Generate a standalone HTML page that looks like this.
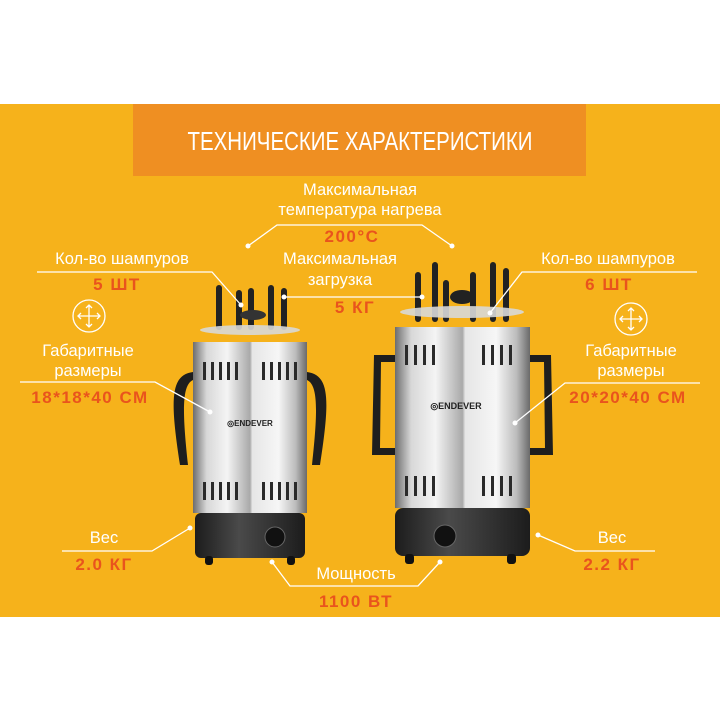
<!DOCTYPE html>
<html><head><meta charset="utf-8"><style>
html,body{margin:0;padding:0;background:#fff;}
svg{display:block}
text{font-family:"Liberation Sans",sans-serif}
.w{fill:#fff;font-size:16.5px;text-anchor:middle}
.o{fill:#e9541d;font-size:17px;font-weight:bold;text-anchor:middle;letter-spacing:1.5px}
.l{stroke:#fff;stroke-width:1.3;fill:none}
</style></head><body>
<svg width="720" height="720" viewBox="0 0 720 720">
<defs>
<linearGradient id="st" x1="0" x2="1">
<stop offset="0" stop-color="#6d6d6d"/><stop offset=".12" stop-color="#d8d8d8"/><stop offset=".3" stop-color="#f4f4f4"/><stop offset=".5" stop-color="#a9a9a9"/><stop offset=".52" stop-color="#e6e6e6"/><stop offset=".75" stop-color="#f6f6f6"/><stop offset=".9" stop-color="#bcbcbc"/><stop offset="1" stop-color="#6a6a6a"/>
</linearGradient>
<linearGradient id="bk" x1="0" x2="1">
<stop offset="0" stop-color="#1c1c1c"/><stop offset=".4" stop-color="#4a4a4a"/><stop offset="1" stop-color="#1c1c1c"/>
</linearGradient>
</defs>
<rect x="0" y="104" width="720" height="513" fill="#f6b21b"/>
<rect x="133" y="104" width="453" height="72" fill="#ef8f22"/>
<text x="360" y="150" fill="#fff" font-size="26" text-anchor="middle" textLength="345" lengthAdjust="spacingAndGlyphs">ТЕХНИЧЕСКИЕ ХАРАКТЕРИСТИКИ</text>

<!-- left appliance -->
<g>
<g fill="#222"><rect x="216" y="285" width="6" height="45" rx="3"/><rect x="236" y="290" width="6" height="40" rx="3"/><rect x="248" y="288" width="6" height="42" rx="3"/><rect x="268" y="285" width="6" height="45" rx="3"/><rect x="281" y="288" width="6" height="42" rx="3"/></g>
<ellipse cx="250" cy="330" rx="50" ry="5" fill="#d8d8d8" opacity=".9"/>
<ellipse cx="253" cy="315" rx="13" ry="5" fill="#333"/>
<path d="M193 372 C170 375 170 400 180 465 L188 465 C182 410 182 385 193 380Z" fill="#1e1e1e"/>
<path d="M307 372 C330 375 330 400 320 465 L312 465 C318 410 318 385 307 380Z" fill="#1e1e1e"/>
<rect x="193" y="342" width="114" height="171" fill="url(#st)"/>
<g fill="#2a2a2a"><rect x="203" y="362" width="3" height="18"/><rect x="211" y="362" width="3" height="18"/><rect x="219" y="362" width="3" height="18"/><rect x="227" y="362" width="3" height="18"/><rect x="235" y="362" width="3" height="18"/><rect x="262" y="362" width="3" height="18"/><rect x="270" y="362" width="3" height="18"/><rect x="278" y="362" width="3" height="18"/><rect x="286" y="362" width="3" height="18"/><rect x="294" y="362" width="3" height="18"/>
<rect x="203" y="482" width="3" height="18"/><rect x="211" y="482" width="3" height="18"/><rect x="219" y="482" width="3" height="18"/><rect x="227" y="482" width="3" height="18"/><rect x="235" y="482" width="3" height="18"/><rect x="262" y="482" width="3" height="18"/><rect x="270" y="482" width="3" height="18"/><rect x="278" y="482" width="3" height="18"/><rect x="286" y="482" width="3" height="18"/><rect x="294" y="482" width="3" height="18"/></g>
<text x="250" y="426" font-size="8" fill="#222" text-anchor="middle" font-weight="bold">◎ENDEVER</text>
<rect x="195" y="513" width="110" height="45" rx="6" fill="url(#bk)"/>
<circle cx="275" cy="537" r="10" fill="#111" stroke="#666"/>
<rect x="205" y="556" width="8" height="9" rx="3" fill="#111"/><rect x="287" y="556" width="8" height="9" rx="3" fill="#111"/>
</g>

<!-- right appliance -->
<g>
<g fill="#222"><rect x="415" y="272" width="6" height="50" rx="3"/><rect x="432" y="262" width="6" height="60" rx="3"/><rect x="470" y="272" width="6" height="50" rx="3"/><rect x="490" y="262" width="6" height="60" rx="3"/><rect x="503" y="268" width="6" height="54" rx="3"/><rect x="443" y="280" width="6" height="42" rx="3"/></g>
<ellipse cx="462" cy="312" rx="62" ry="6" fill="#d8d8d8" opacity=".9"/>
<ellipse cx="462" cy="297" rx="12" ry="7" fill="#222"/>
<path d="M395 355 L374 355 L372 455 L395 455 L395 448 L380 448 L381 362 L395 362Z" fill="#1e1e1e"/>
<path d="M530 355 L551 355 L553 455 L530 455 L530 448 L545 448 L544 362 L530 362Z" fill="#1e1e1e"/>
<rect x="395" y="327" width="135" height="181" fill="url(#st)"/>
<g fill="#2a2a2a"><rect x="405" y="345" width="3" height="20"/><rect x="414" y="345" width="3" height="20"/><rect x="423" y="345" width="3" height="20"/><rect x="432" y="345" width="3" height="20"/><rect x="482" y="345" width="3" height="20"/><rect x="491" y="345" width="3" height="20"/><rect x="500" y="345" width="3" height="20"/><rect x="509" y="345" width="3" height="20"/>
<rect x="405" y="476" width="3" height="20"/><rect x="414" y="476" width="3" height="20"/><rect x="423" y="476" width="3" height="20"/><rect x="432" y="476" width="3" height="20"/><rect x="482" y="476" width="3" height="20"/><rect x="491" y="476" width="3" height="20"/><rect x="500" y="476" width="3" height="20"/><rect x="509" y="476" width="3" height="20"/></g>
<text x="456" y="409" font-size="9" fill="#222" text-anchor="middle" font-weight="bold">◎ENDEVER</text>
<rect x="395" y="508" width="135" height="48" rx="8" fill="url(#bk)"/>
<circle cx="445" cy="536" r="11" fill="#111" stroke="#666"/>
<rect x="405" y="554" width="9" height="10" rx="3" fill="#111"/><rect x="507" y="554" width="9" height="10" rx="3" fill="#111"/>
</g>

<!-- labels -->
<text class="w" x="360" y="195">Максимальная</text>
<text class="w" x="360" y="215">температура нагрева</text>
<polyline class="l" points="248,246 277,225 422,225 452,246"/>
<circle cx="248" cy="246" r="2.5" fill="#fff"/><circle cx="452" cy="246" r="2.5" fill="#fff"/>
<text class="o" x="352" y="242">200°C</text>

<text class="w" x="122" y="264">Кол-во шампуров</text>
<polyline class="l" points="37,272 212,272 241,305"/><circle cx="241" cy="305" r="2.5" fill="#fff"/>
<text class="o" x="117" y="290">5 ШТ</text>

<text class="w" x="340" y="264">Максимальная</text>
<text class="w" x="340" y="285">загрузка</text>
<line class="l" x1="284" y1="297" x2="422" y2="297"/><circle cx="284" cy="297" r="2.5" fill="#fff"/><circle cx="422" cy="297" r="2.5" fill="#fff"/>
<text class="o" x="355" y="313">5 КГ</text>

<text class="w" x="608" y="264">Кол-во шампуров</text>
<polyline class="l" points="697,272 522,272 490,313"/><circle cx="490" cy="313" r="2.5" fill="#fff"/>
<text class="o" x="609" y="290">6 ШТ</text>

<g class="l"><circle cx="89" cy="316" r="16"/><path d="M89 305v22M78 316h22M86 308l3-3 3 3M86 324l3 3 3-3M81 313l-3 3 3 3M97 313l3 3-3 3"/></g>
<g class="l"><circle cx="631" cy="319" r="16"/><path d="M631 308v22M620 319h22M628 311l3-3 3 3M628 327l3 3 3-3M623 316l-3 3 3 3M639 316l3 3-3 3"/></g>

<text class="w" x="88" y="356">Габаритные</text>
<text class="w" x="88" y="376">размеры</text>
<polyline class="l" points="20,382 155,382 210,412"/><circle cx="210" cy="412" r="2.5" fill="#fff"/>
<text class="o" x="90" y="403">18*18*40 СМ</text>

<text class="w" x="631" y="356">Габаритные</text>
<text class="w" x="631" y="376">размеры</text>
<polyline class="l" points="700,383 565,383 515,423"/><circle cx="515" cy="423" r="2.5" fill="#fff"/>
<text class="o" x="628" y="403">20*20*40 СМ</text>

<text class="w" x="104" y="543">Вес</text>
<polyline class="l" points="62,551 152,551 190,528"/><circle cx="190" cy="528" r="2.5" fill="#fff"/>
<text class="o" x="104" y="570">2.0 КГ</text>

<text class="w" x="612" y="543">Вес</text>
<polyline class="l" points="655,551 575,551 538,535"/><circle cx="538" cy="535" r="2.5" fill="#fff"/>
<text class="o" x="612" y="570">2.2 КГ</text>

<text class="w" x="356" y="579">Мощность</text>
<polyline class="l" points="272,562 290,586 418,586 440,562"/><circle cx="272" cy="562" r="2.5" fill="#fff"/><circle cx="440" cy="562" r="2.5" fill="#fff"/>
<text class="o" x="356" y="607" font-size="19">1100 ВТ</text>
</svg>
</body></html>
